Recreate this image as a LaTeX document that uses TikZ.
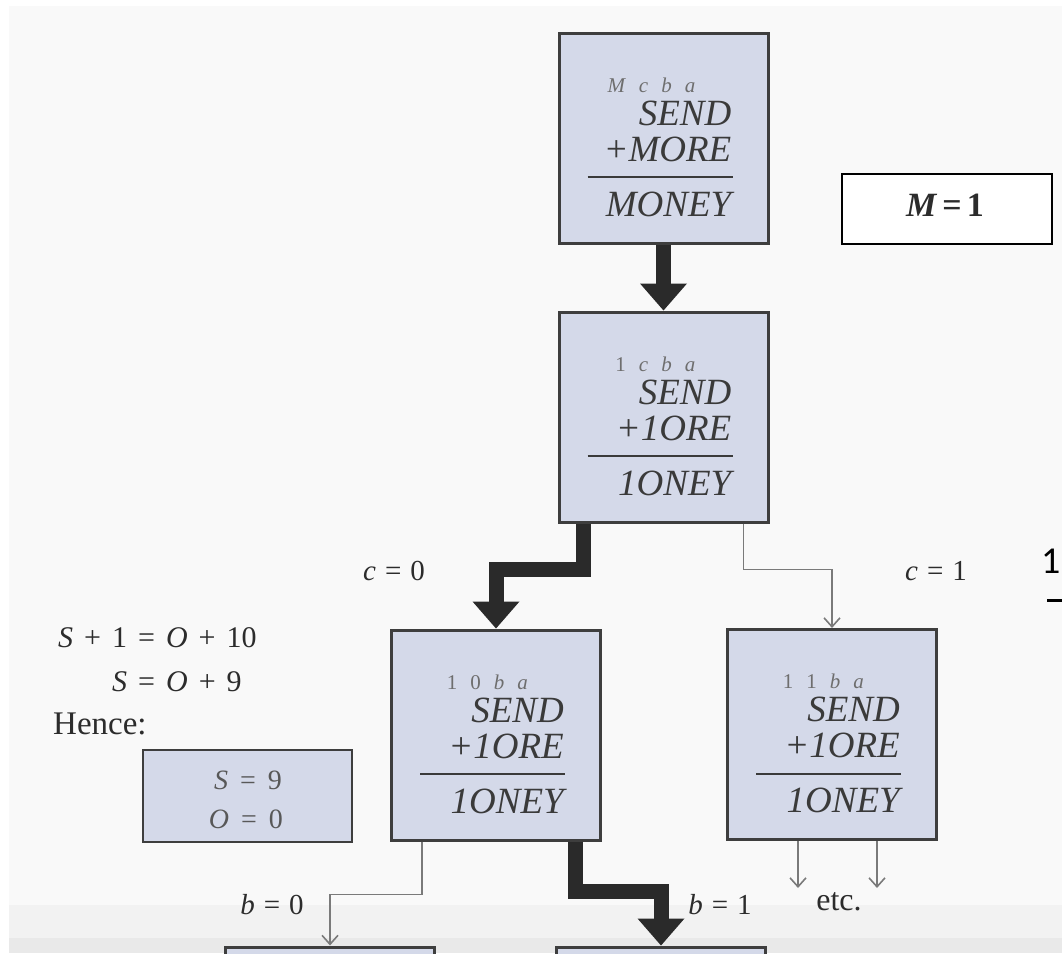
\documentclass[tikz,border=0pt]{standalone}
\usepackage{fontspec}
\setmainfont{Liberation Serif}
\newfontfamily\labelsans{Carlito}
\usetikzlibrary{arrows.meta}

\definecolor{paper}{HTML}{F9F9F9}
\definecolor{bandlight}{HTML}{F2F2F2}
\definecolor{banddark}{HTML}{E9E9E9}
\definecolor{boxfill}{HTML}{D4D9E9}
\definecolor{boxline}{HTML}{3E3E3E}
\definecolor{wordgrey}{HTML}{3A3A3A}
\definecolor{carrygrey}{HTML}{6E6E6E}
\definecolor{heavy}{HTML}{2A2A2A}
\definecolor{linegrey}{HTML}{7A7A7A}
\definecolor{inkdark}{HTML}{2C2C2C}

% spacing helpers
\newcommand\cg{\hspace{13pt}}
\newcommand\eqgap{\hspace{11pt}}
\newcommand\lgap{\hspace{9pt}}

% one column-addition box: name, x, y, carries, addend, result
\newcommand\sumbox[6]{%
  \node[cbox] (#1) at (#2,#3) {};
  \node[carry, anchor=base east] at ([shift={(32,-46)}]#1.center) {#4};
  \node[word, anchor=base east] at ([shift={(68,-13)}]#1.center) {SEND};
  \node[word, anchor=base east] at ([shift={(68,23)}]#1.center) {#5};
  \draw[sumrule] ([shift={(-76,39)}]#1.center) -- ([shift={(69,39)}]#1.center);
  \node[word, anchor=base east] at ([shift={(68,78)}]#1.center) {#6};
}

\begin{document}
\begin{tikzpicture}[x=1pt,y=-1pt,
  cbox/.style={draw=boxline, fill=boxfill, line width=3pt, inner sep=0pt,
    minimum width=209pt, minimum height=210pt},
  word/.style={font=\fontsize{37}{38}\selectfont\itshape, text=wordgrey, inner sep=0pt},
  carry/.style={font=\fontsize{21}{21}\selectfont, text=carrygrey, inner sep=0pt},
  sumrule/.style={draw=wordgrey, line width=2pt},
  bigarrow/.style={draw=heavy, line width=15pt, line join=miter,
    -{Triangle[length=27pt,width=47pt,line width=0pt]}},
  thinarrow/.style={draw=linegrey, line width=1.6pt,
    -{Straight Barb[length=9pt,width=16pt]}},
  lbl/.style={font=\fontsize{29}{30}\selectfont, text=inkdark, inner sep=0pt},
  eq/.style={font=\fontsize{30}{32}\selectfont, text=inkdark, inner sep=0pt},
  result/.style={draw=boxline, fill=boxfill, line width=2.5pt, inner sep=0pt,
    minimum width=209pt, minimum height=92pt},
  given/.style={draw=black, fill=white, line width=2.5pt, inner sep=0pt,
    minimum width=210pt, minimum height=70pt}]

\useasboundingbox (0,0) rectangle (1062,953);
\clip (0,0) rectangle (1062,953);

% paper
\fill[white] (0,0) rectangle (1062,953);
\fill[paper] (9,6) rectangle (1062,953);
\fill[bandlight] (9,905) rectangle (1062,938);
\fill[banddark] (9,938) rectangle (1062,953);

% addition boxes
\sumbox{top}{663.5}{138}{\textit{M}\cg\textit{c}\cg\textit{b}\cg\textit{a}}{+MORE}{MONEY}
\sumbox{mid}{663.5}{417}{1\cg\textit{c}\cg\textit{b}\cg\textit{a}}{+1ORE}{1ONEY}
\sumbox{left}{496}{735}{1\cg0\cg\textit{b}\cg\textit{a}}{+1ORE}{1ONEY}
\sumbox{right}{832}{734.5}{1\cg1\cg\textit{b}\cg\textit{a}}{+1ORE}{1ONEY}

% next level (cut off at the bottom edge)
\node[cbox] (lowa) at (330,1052) {};
\node[cbox] (lowb) at (661,1052) {};

% M = 1
\node[given] (mone) at (947,209) {};
\node[font=\fontsize{34}{35}\selectfont\bfseries, text=inkdark, inner sep=0pt, anchor=base]
  (monetext) at (945,216) {\textit{M}\hspace{5pt}=\hspace{5pt}1};

% deduction on the left
\node[eq, anchor=base west] (eqa) at (58,647) {\textit{S}\eqgap+\eqgap1\eqgap=\eqgap\textit{O}\eqgap+\eqgap10};
\node[eq, anchor=base west] (eqb) at (112,691) {\textit{S}\eqgap=\eqgap\textit{O}\eqgap+\eqgap9};
\node[eq, anchor=base west, font=\fontsize{33}{34}\selectfont] (hence) at (53,734) {Hence:};
\node[result] (so) at (247.5,796) {};
\node[font=\fontsize{28}{30}\selectfont, text=carrygrey!80!black, inner sep=0pt, anchor=base]
  (sval) at (248,789) {\textit{S}\hspace{12pt}=\hspace{12pt}9};
\node[font=\fontsize{28}{30}\selectfont, text=carrygrey!80!black, inner sep=0pt, anchor=base]
  (oval) at (246,828) {\textit{O}\hspace{12pt}=\hspace{12pt}0};

% heavy path of the search
\draw[bigarrow] (top.south) -- (mid.north);
\draw[bigarrow] ([xshift=-80.5pt]mid.south) -- ++(0,46) -| (left.north);
\draw[bigarrow] ([xshift=79pt]left.south) -- ++(0,50) -| (lowb.north);

% other branches
\draw[thinarrow] ([xshift=80pt]mid.south) -- ++(0,46) -| (right.north);
\draw[thinarrow] ([xshift=-74pt]left.south) -- ++(0,53) -| (lowa.north);
\coordinate (etca) at ([shift={(-34,47)}]right.south);
\coordinate (etcb) at ([shift={(45,47)}]right.south);
\draw[thinarrow] ([xshift=-34pt]right.south) -- (etca);
\draw[thinarrow] ([xshift=45pt]right.south) -- (etcb);

% branch labels
\node[lbl, anchor=base] (lc0) at (394,580) {\textit{c}\lgap=\lgap0};
\node[lbl, anchor=base] (lc1) at (936,580) {\textit{c}\lgap=\lgap1};
\node[lbl, anchor=base] (lb0) at (272,914) {\textit{b}\lgap=\lgap0};
\node[lbl, anchor=base] (lb1) at (720,914) {\textit{b}\lgap=\lgap1};
\node[lbl, anchor=base, font=\fontsize{32}{32}\selectfont] (letc) at (839,910) {etc.};

% stray marks at the right edge
\node[font=\labelsans\fontsize{38}{38}\selectfont, text=black, inner sep=0pt, anchor=base west]
  (edgeone) at (1041,573) {1};
\draw[black, line width=3pt] (1047,600) -- (1062,600);
\end{tikzpicture}
\end{document}
